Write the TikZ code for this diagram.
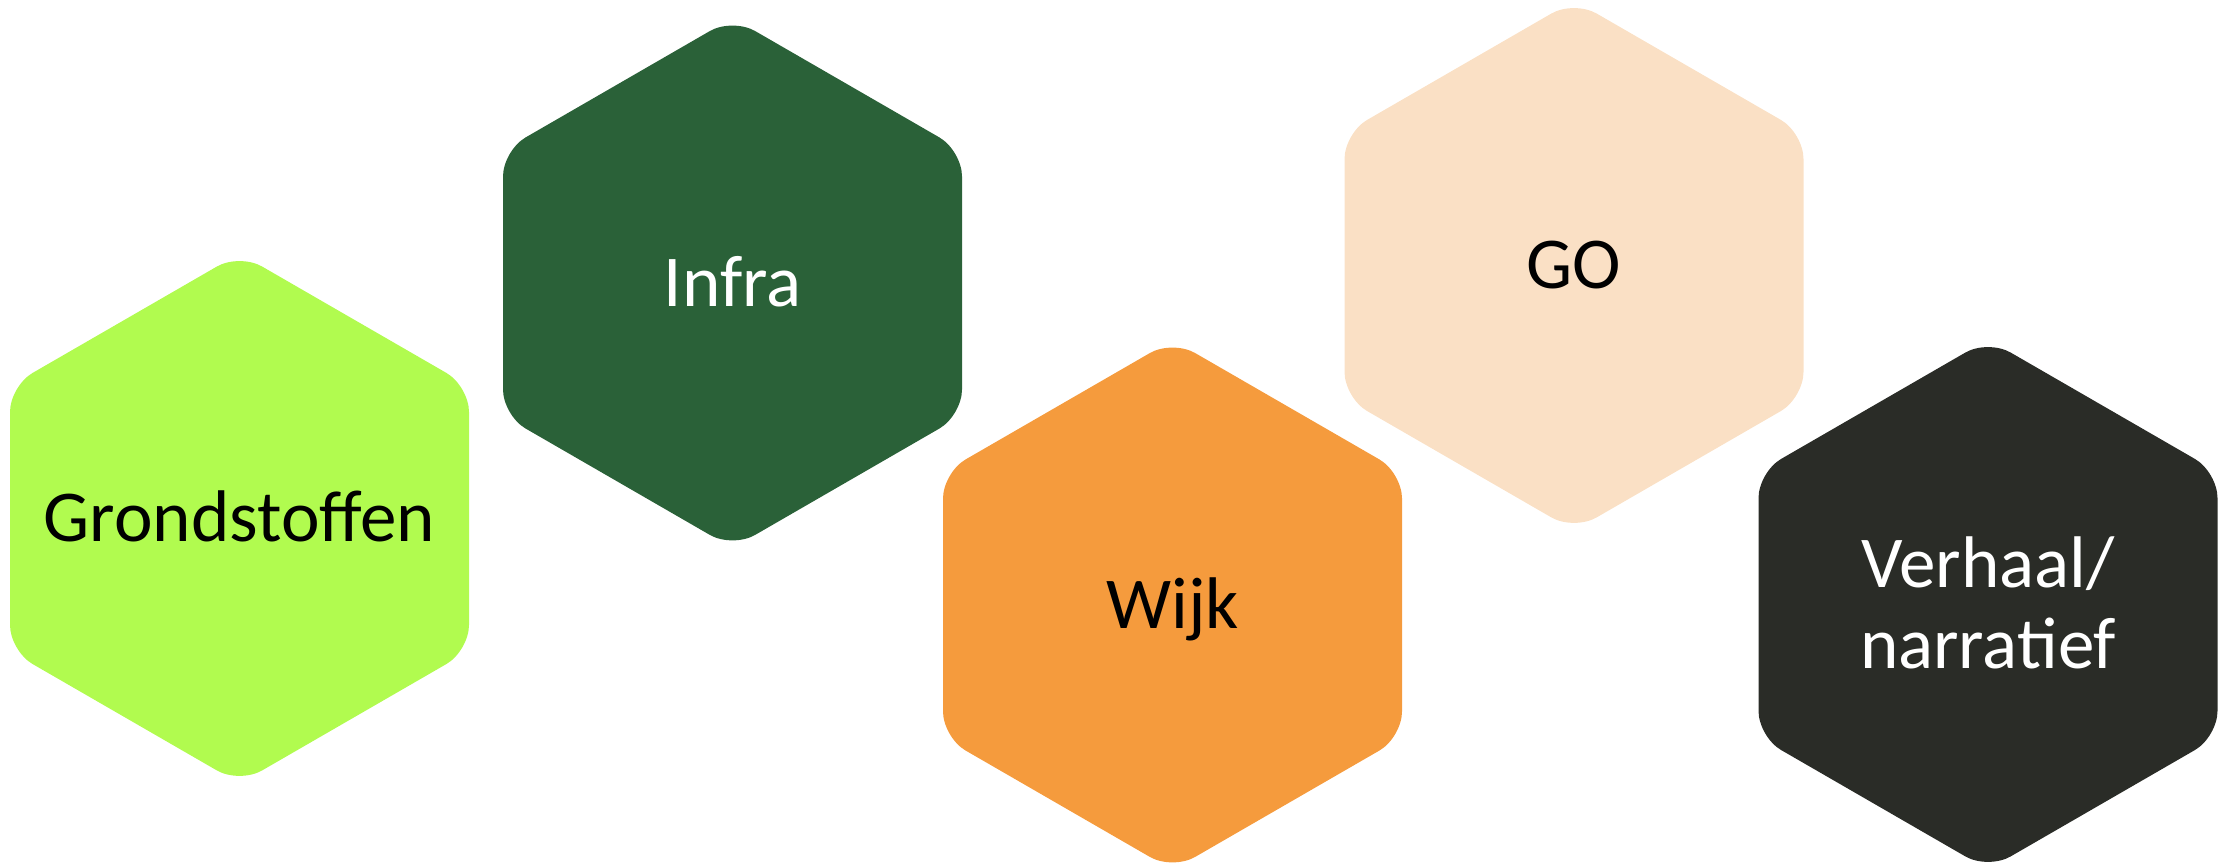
\documentclass[tikz,border=0pt]{standalone}
\usepackage{fontspec}
\setmainfont{Carlito}
\usepackage{tikz}
\usetikzlibrary{shapes.geometric, positioning}
\definecolor{limegreen}{HTML}{B1FB4F}
\definecolor{forestgreen}{HTML}{2A6138}
\definecolor{warmorange}{HTML}{F59B3D}
\definecolor{peach}{HTML}{FAE0C5}
\definecolor{charcoal}{HTML}{2A2C27}

\begin{document}
\begin{tikzpicture}[
    hexa/.style={regular polygon, regular polygon sides=6, shape border rotate=30,
                 fill=#1, draw=none, rounded corners=0.26cm, minimum size=5.3cm,
                 inner sep=0pt, outer sep=0pt},
    lbl/.style={text=#1, align=center, inner sep=0pt,
                font=\fontsize{20.8}{23}\selectfont, text height=0.47cm, text depth=0pt}
]
    \useasboundingbox (0,0) rectangle (22.29,8.64);

    % bottom row
    \node[hexa=limegreen, label={[lbl=black]center:Grondstoffen}] (grond) at (2.395, 3.455) {};
    \node[hexa=warmorange, label={[lbl=black]center:Wijk}] (wijk) at (11.725, 2.59) {};
    \node[hexa=charcoal, label={[lbl=white, text height=1.28cm]center:{Verhaal/\\narratief}}] (verhaal) at (19.88, 2.595) {};

    % top row
    \node[hexa=forestgreen, label={[lbl=white]center:Infra}] (infra) at (7.325, 5.81) {};
    \node[hexa=peach, label={[lbl=black]center:GO}] (go) at (15.74, 5.985) {};
\end{tikzpicture}
\end{document}
